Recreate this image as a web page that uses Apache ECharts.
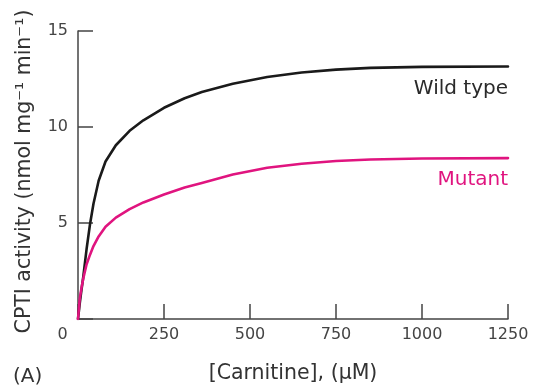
<!DOCTYPE html>
<html>
<head>
<meta charset="utf-8">
<script src="https://cdn.jsdelivr.net/npm/echarts@6/dist/echarts.min.js"></script>
<style>
html,body{margin:0;padding:0;background:#fff;}
#c{width:535px;height:389px;}
</style>
</head>
<body>
<div id="c"></div>
<script>
var carnitine = [0, 5, 10, 15, 25, 35, 45, 60, 80, 110, 150, 190, 250, 310, 360, 450, 550, 650, 750, 850, 1000, 1250];
var wildType  = [0, 0.8, 1.5, 2.15, 3.65, 4.95, 6.0, 7.2, 8.2, 9.05, 9.8, 10.35, 11.0, 11.5, 11.82, 12.25, 12.6, 12.84, 12.99, 13.08, 13.13, 13.15];
var mutant    = [0, 1.05, 1.6, 2.08, 2.85, 3.35, 3.8, 4.3, 4.8, 5.28, 5.72, 6.07, 6.48, 6.85, 7.08, 7.53, 7.88, 8.09, 8.23, 8.31, 8.36, 8.38];
var xTicks = [0, 250, 500, 750, 1000, 1250];
var yTicks = [0, 5, 10, 15];

var FONT = '"DejaVu Sans", sans-serif';
function pairs(xs, ys){ return xs.map(function(x,i){ return [x, ys[i]]; }); }

var chart = echarts.init(document.getElementById('c'), null, {renderer:'canvas'});
chart.setOption({
  animation: false,
  backgroundColor: '#ffffff',
  grid: {left: 78, right: 27, top: 31, bottom: 65.7, containLabel: false},
  xAxis: {
    type: 'value', min: xTicks[0], max: xTicks[xTicks.length-1], interval: xTicks[1]-xTicks[0],
    axisLine: {show: true, lineStyle: {color: '#444', width: 1.5}},
    axisTick: {show: true, inside: true, length: 15, lineStyle: {color: '#444', width: 1.5}},
    splitLine: {show: false},
    axisLabel: {
      margin: 8, fontFamily: FONT, fontSize: 16, color: '#444',
      formatter: function(v){ return v === 0 ? '{z|0}' : String(v); },
      rich: {z: {fontFamily: FONT, fontSize: 16, color: '#444', padding: [0, 31, 0, 0]}}
    },
    name: '[Carnitine], (\u03bcM)', nameLocation: 'middle', nameGap: 44,
    nameTextStyle: {fontFamily: FONT, fontSize: 20.5, color: '#333'}
  },
  yAxis: {
    type: 'value', min: yTicks[0], max: yTicks[yTicks.length-1], interval: yTicks[1]-yTicks[0],
    axisLine: {show: true, lineStyle: {color: '#444', width: 1.5}},
    axisTick: {show: true, inside: true, length: 15, lineStyle: {color: '#444', width: 1.5}},
    splitLine: {show: false},
    axisLabel: {
      margin: 10, fontFamily: FONT, fontSize: 16, color: '#444',
      formatter: function(v){ return v === 0 ? '' : String(v); }
    }
  },
  series: [
    {
      name: 'Wild type', type: 'line', smooth: false, symbol: 'none',
      data: pairs(carnitine, wildType),
      lineStyle: {color: '#1a1a1a', width: 2.6, join: 'round', cap: 'round'}
    },
    {
      name: 'Mutant', type: 'line', smooth: false, symbol: 'none',
      data: pairs(carnitine, mutant),
      lineStyle: {color: '#e0147f', width: 2.6, join: 'round', cap: 'round'}
    }
  ],
  graphic: [
    {type: 'text', x: 25, y: 171.5, rotation: Math.PI/2,
     style: {text: 'CPTI activity (nmol mg\u207b\u00b9 min\u207b\u00b9)', fontFamily: FONT, fontSize: 20.5, fill: '#333', align: 'center', verticalAlign: 'middle'}},
    {type: 'text', x: 508, y: 89, style: {text: 'Wild type', fontFamily: FONT, fontSize: 20, fill: '#2a2a2a', align: 'right', verticalAlign: 'middle'}},
    {type: 'text', x: 508, y: 180, style: {text: 'Mutant', fontFamily: FONT, fontSize: 20, fill: '#e0147f', align: 'right', verticalAlign: 'middle'}},
    {type: 'text', x: 13, y: 377, style: {text: '(A)', fontFamily: FONT, fontSize: 20, fill: '#333', align: 'left', verticalAlign: 'middle'}}
  ]
});
</script>
</body>
</html>
